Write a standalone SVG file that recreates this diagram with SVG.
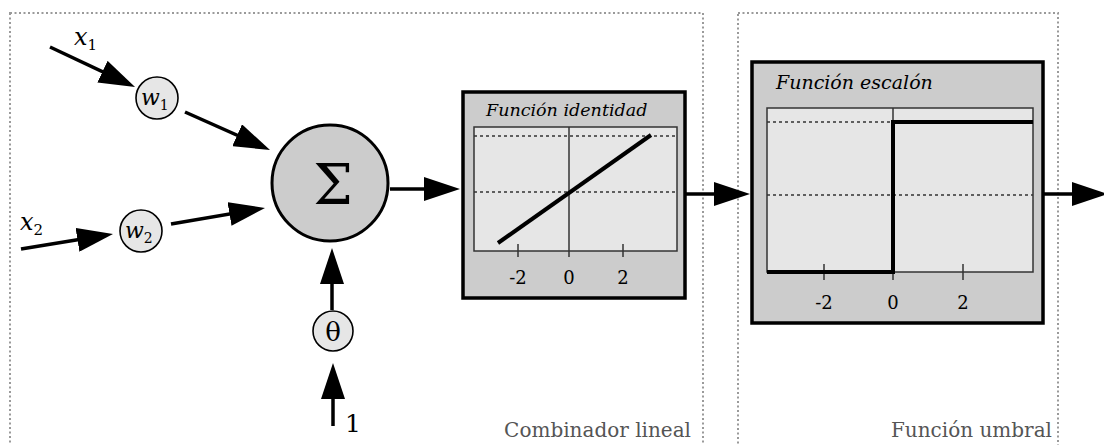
<svg xmlns="http://www.w3.org/2000/svg" width="1104" height="445" viewBox="0 0 1104 445">
  <style>
    .frame { fill: none; stroke: #9a9a9a; stroke-width: 2; stroke-dasharray: 2 2.5; }
    .wire { fill: none; stroke: #000; stroke-width: 3.5; marker-end: url(#head); }
    .weight { fill: #e6e6e6; stroke: #000; stroke-width: 1.6; }
    .sum { fill: #cccccc; stroke: #000; stroke-width: 3; }
    .panel { fill: #cccccc; stroke: #000; stroke-width: 3.5; }
    .plot { fill: #e6e6e6; stroke: #333; stroke-width: 1.5; }
    .axis { fill: none; stroke: #333; stroke-width: 1.5; }
    .grid { fill: none; stroke: #333; stroke-width: 1.5; stroke-dasharray: 3 3; }
    .curve { fill: none; stroke: #000; stroke-width: 4; }
    .serif { font-family: "DejaVu Serif", "Liberation Serif", serif; fill: #000; }
    .it { font-style: italic; }
    .tick { font-size: 18px; text-anchor: middle; }
    .caption { font-size: 20px; fill: #555; text-anchor: end; }
  </style>
  <defs>
    <marker id="head" markerUnits="userSpaceOnUse" markerWidth="36" markerHeight="24" refX="28" refY="12" orient="auto">
      <path d="M0,0 L36,12 L0,24 z" fill="#000"/>
    </marker>
  </defs>

  <!-- stage frames -->
  <g id="frame-combinador">
    <rect class="frame" x="10" y="13" width="693" height="460"/>
    <text class="serif caption" x="691" y="437">Combinador lineal</text>
  </g>
  <g id="frame-umbral">
    <rect class="frame" x="738" y="13" width="320" height="460"/>
    <text class="serif caption" x="1052" y="437">Función umbral</text>
  </g>

  <!-- connectors -->
  <g id="connectors">
    <line class="wire" x1="50" y1="47" x2="127.8" y2="83.6"/>
    <line class="wire" x1="185" y1="112" x2="262.7" y2="146.7"/>
    <line class="wire" x1="21" y1="249" x2="105.1" y2="235.3"/>
    <line class="wire" x1="171" y1="224" x2="257.1" y2="209.3"/>
    <line class="wire" x1="332" y1="310" x2="332" y2="256"/>
    <line class="wire" x1="333" y1="426" x2="333" y2="371"/>
    <line class="wire" x1="390" y1="189" x2="452" y2="189"/>
    <line class="wire" x1="685" y1="194" x2="742" y2="194"/>
    <line class="wire" x1="1043" y1="194" x2="1100" y2="194"/>
  </g>

  <!-- inputs -->
  <g id="input-x1">
    <text class="serif it" x="74" y="45" font-size="24">x<tspan font-size="15" font-style="normal" dy="5">1</tspan></text>
  </g>
  <g id="input-x2">
    <text class="serif it" x="20" y="230" font-size="24">x<tspan font-size="15" font-style="normal" dy="5">2</tspan></text>
  </g>
  <g id="input-1">
    <text class="serif" x="345" y="432" font-size="25">1</text>
  </g>

  <!-- weights -->
  <g id="weight-w1">
    <circle class="weight" cx="157" cy="98" r="21"/>
    <text class="serif it" x="141" y="105" font-size="22">w<tspan font-size="14" font-style="normal" dy="5">1</tspan></text>
  </g>
  <g id="weight-w2">
    <circle class="weight" cx="141" cy="231" r="21"/>
    <text class="serif it" x="125" y="238" font-size="22">w<tspan font-size="14" font-style="normal" dy="5">2</tspan></text>
  </g>
  <g id="bias-theta">
    <circle class="weight" cx="333" cy="331" r="20"/>
    <text class="serif" x="333" y="341" font-size="26" text-anchor="middle">θ</text>
  </g>

  <!-- summation -->
  <g id="sum">
    <circle class="sum" cx="330" cy="183" r="58"/>
    <text class="serif" x="333" y="204" font-size="56" text-anchor="middle">Σ</text>
  </g>

  <!-- identity activation panel -->
  <g id="funcion-identidad">
    <rect class="panel" x="463" y="92" width="222" height="206"/>
    <text class="serif it" x="486" y="116" font-size="17.5">Función identidad</text>
    <rect class="plot" x="474" y="127" width="203" height="124"/>
    <line class="grid" x1="474" y1="136" x2="677" y2="136"/>
    <line class="grid" x1="474" y1="192" x2="677" y2="192"/>
    <line class="axis" x1="569" y1="127" x2="569" y2="257"/>
    <line class="axis" x1="518" y1="244" x2="518" y2="257"/>
    <line class="axis" x1="623" y1="244" x2="623" y2="257"/>
    <line class="curve" x1="498" y1="243" x2="651" y2="135"/>
    <text class="serif tick" x="518" y="284">-2</text>
    <text class="serif tick" x="569" y="284">0</text>
    <text class="serif tick" x="623" y="284">2</text>
  </g>

  <!-- step activation panel -->
  <g id="funcion-escalon">
    <rect class="panel" x="752" y="62" width="291" height="261"/>
    <text class="serif it" x="776" y="89" font-size="19">Función escalón</text>
    <rect class="plot" x="767" y="108" width="266" height="164"/>
    <line class="grid" x1="767" y1="122" x2="893" y2="122"/>
    <line class="grid" x1="767" y1="195" x2="1033" y2="195"/>
    <line class="axis" x1="893" y1="108" x2="893" y2="280"/>
    <line class="axis" x1="824" y1="264" x2="824" y2="280"/>
    <line class="axis" x1="963" y1="264" x2="963" y2="280"/>
    <polyline class="curve" points="767,272 893,272 893,122 1033,122"/>
    <text class="serif tick" x="824" y="309">-2</text>
    <text class="serif tick" x="893" y="309">0</text>
    <text class="serif tick" x="963" y="309">2</text>
  </g>
</svg>
